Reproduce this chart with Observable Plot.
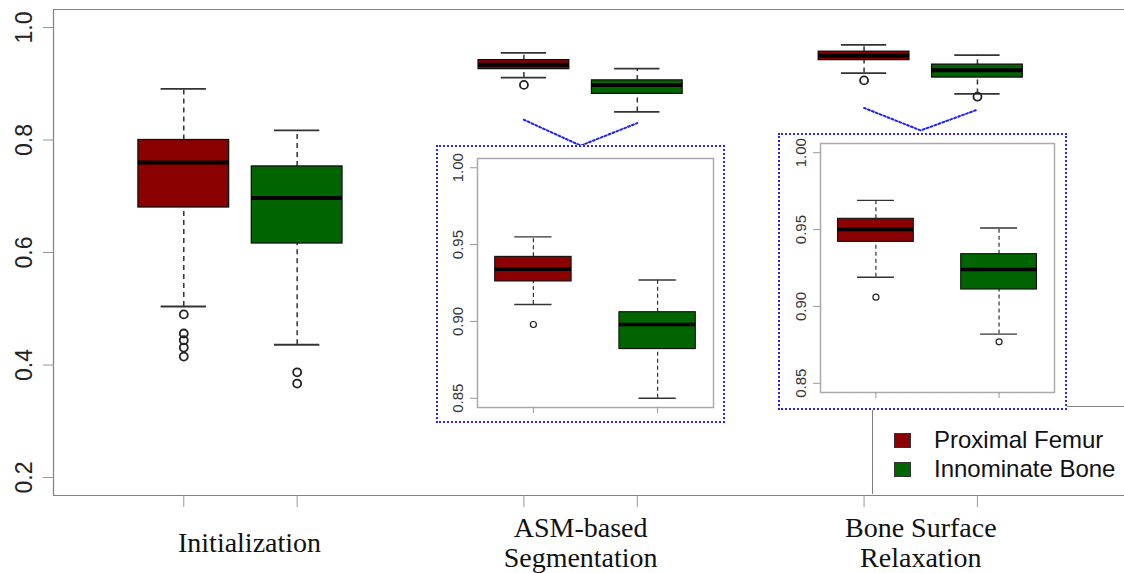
<!DOCTYPE html>
<html><head><meta charset="utf-8">
<script src="https://cdn.jsdelivr.net/npm/d3@7"></script>
<script src="https://cdn.jsdelivr.net/npm/@observablehq/plot@0.6"></script>
<style>
html,body{margin:0;padding:0;background:#fff;overflow:hidden}
#wrap{position:relative;width:1124px;height:573px;overflow:hidden;background:#fff}
#main{position:absolute;left:0;top:0}
.inset{position:absolute;box-sizing:border-box;border:2px dotted #2424ff;background:#fff}
#inset1{left:436px;top:145px;width:289px;height:278px}
#inset2{left:778px;top:133px;width:289px;height:277px}
#legend{position:absolute;left:872px;top:406px;width:260px;height:88px;box-sizing:border-box;border-left:1px solid #808080;border-top:1px solid #808080;background:#fff;font-family:"Liberation Sans",Arial,sans-serif;font-size:24px;color:#111}
.item{position:absolute;left:21px;height:18px;display:flex;align-items:center;white-space:nowrap}
.sw{width:17px;height:15px;box-sizing:border-box;border:1px solid #333;margin-right:23px}
</style></head>
<body>
<div id="wrap">
  <div id="main"></div>
  <div id="legend"></div>
  <div class="inset" id="inset1"></div>
  <div class="inset" id="inset2"></div>
</div>
<script>
// ---- data ----
const stages = ["Initialization", "ASM-based\nSegmentation", "Bone Surface\nRelaxation"];
const series = ["Proximal Femur", "Innominate Bone"];
const seriesColors = ["#8b0000", "#006400"];
// each row: one stage, [Proximal Femur, Innominate Bone]
const whiskerLow  = [[0.504, 0.436], [0.911, 0.850], [0.919, 0.882]];
const quartile1   = [[0.680, 0.616], [0.926, 0.882], [0.942, 0.911]];
const medians     = [[0.760, 0.697], [0.934, 0.898], [0.950, 0.924]];
const quartile3   = [[0.800, 0.753], [0.942, 0.906], [0.957, 0.934]];
const whiskerHigh = [[0.891, 0.817], [0.955, 0.927], [0.969, 0.951]];
const outliers    = [[[0.490, 0.456, 0.444, 0.431, 0.415], [0.387, 0.367]],
                     [[0.898], []],
                     [[0.906], [0.877]]];
const mainTicks  = [0.2, 0.4, 0.6, 0.8, 1.0];
const insetTicks = [0.85, 0.90, 0.95, 1.00];
// dotted callout lines (value at left box, apex, right box) for the zoomed stages
const calloutY = [[0.836, 0.790, 0.830], [0.857, 0.817, 0.854]];

// ---- derived tables ----
const rPad = (lo, hi) => [lo - 0.04 * (hi - lo), hi + 0.04 * (hi - lo)];
const boxes = [];
const outPts = [];
stages.forEach((st, s) => series.forEach((se, k) => {
  boxes.push({stage: s, series: se, k, x: s * 3 + k + 1, lo: whiskerLow[s][k], q1: quartile1[s][k],
    med: medians[s][k], q3: quartile3[s][k], hi: whiskerHigh[s][k]});
  outliers[s][k].forEach(v => outPts.push({stage: s, series: se, k, x: s * 3 + k + 1, y: v}));
}));

function boxMarks(data, pts, xf, o) {
  const X = d => xf(d);
  return [
    Plot.ruleX(data, {x: X, y1: "q3", y2: "hi", stroke: "#333", strokeWidth: o.ws, strokeDasharray: o.dash}),
    Plot.ruleX(data, {x: X, y1: "lo", y2: "q1", stroke: "#333", strokeWidth: o.ws, strokeDasharray: o.dash}),
    Plot.ruleY(data, {y: "hi", x1: d => X(d) - o.cw / 2, x2: d => X(d) + o.cw / 2, stroke: "#333", strokeWidth: o.cs}),
    Plot.ruleY(data, {y: "lo", x1: d => X(d) - o.cw / 2, x2: d => X(d) + o.cw / 2, stroke: "#333", strokeWidth: o.cs}),
    Plot.rect(data, {x1: d => X(d) - o.bw / 2, x2: d => X(d) + o.bw / 2, y1: "q1", y2: "q3", fill: "series", stroke: "#111", strokeWidth: o.bs}),
    Plot.ruleY(data, {y: "med", x1: d => X(d) - o.bw / 2, x2: d => X(d) + o.bw / 2, stroke: "#000", strokeWidth: o.ms}),
    Plot.dot(pts, {x: X, y: "y", r: o.r, stroke: "#222", strokeWidth: o.os, fill: "none"})
  ];
}

// ---- main chart ----
const yMain = rPad(0.2, 1.0);
const xMain = [-0.149, 9.297];
const links = [];
calloutY.forEach((ys, g) => ys.forEach((v, j) => links.push({g, x: (g + 1) * 3 + 1 + j * 0.5, y: v})));

const main = Plot.plot({
  width: 1124, height: 573,
  marginLeft: 53, marginTop: 9, marginRight: 0, marginBottom: 78,
  x: {domain: xMain, axis: null},
  y: {domain: yMain, axis: null},
  color: {domain: series, range: seriesColors},
  style: {background: "transparent", overflow: "visible"},
  marks: [
    Plot.ruleY(yMain, {stroke: "#808080", strokeWidth: 1.2}),
    Plot.ruleX([xMain[0]], {stroke: "#808080", strokeWidth: 1.2}),
    Plot.axisY(mainTicks, {anchor: "left", label: null, tickRotate: -90, tickSize: 10, tickPadding: 12, tickFormat: ".1f",
      fontSize: 23, stroke: "#999", fill: "#222", fontFamily: "Liberation Sans, Arial, sans-serif"}),
    Plot.axisX(boxes.map(d => d.x), {anchor: "bottom", label: null, tickSize: 12, tickFormat: () => "", stroke: "#999"}),
    Plot.text(stages, {x: (d, i) => i * 3 + 1.5 + (i === 0 ? 0.08 : 0), frameAnchor: "bottom", dy: 47, lineAnchor: "middle",
      lineHeight: 1.06, fontSize: 28, fontFamily: "Liberation Serif, Times New Roman, serif", fill: "#111"}),
    ...boxMarks(boxes, outPts, d => d.x, {bw: 0.8, cw: 0.4, ws: 1.5, cs: 1.8, bs: 1.3, ms: 4, r: 4, os: 1.8, dash: "5,4"}),
    Plot.line(links, {x: "x", y: "y", z: "g", stroke: "#1f1fff", strokeWidth: 2, strokeDasharray: "2,2.2"})
  ]
});
document.getElementById("main").appendChild(main);

// ---- legend ----
const lg = document.getElementById("legend");
series.forEach((s, i) => {
  const it = document.createElement("div");
  it.className = "item";
  it.style.top = (24 + i * 29) + "px";
  const sw = document.createElement("span");
  sw.className = "sw";
  sw.style.background = seriesColors[i];
  it.appendChild(sw);
  it.appendChild(document.createTextNode(s));
  lg.appendChild(it);
});

// ---- insets ----
const yInset = rPad(0.85, 1.0);
function inset(stage, w, h, m) {
  const data = boxes.filter(d => d.stage === stage);
  const pts = outPts.filter(d => d.stage === stage);
  return Plot.plot({
    width: w, height: h,
    marginLeft: m[0], marginTop: m[1], marginRight: m[2], marginBottom: m[3],
    x: {domain: [0.55, 2.45], axis: null},
    y: {domain: yInset, axis: null},
    color: {domain: series, range: seriesColors},
    style: {background: "transparent", overflow: "visible"},
    marks: [
      Plot.frame({stroke: "#aaa", strokeWidth: 1.5}),
      Plot.axisY(insetTicks, {anchor: "left", label: null, tickRotate: -90, tickSize: 7, tickPadding: 8, tickFormat: ".2f",
        fontSize: 15, stroke: "#999", fill: "#333", fontFamily: "Liberation Sans, Arial, sans-serif"}),
      Plot.axisX([1, 2], {anchor: "bottom", label: null, tickSize: 6, tickFormat: () => "", stroke: "#999"}),
      ...boxMarks(data, pts, d => d.k + 1, {bw: 0.615, cw: 0.3, ws: 1.2, cs: 1.4, bs: 1.1, ms: 3.5, r: 3, os: 1.2, dash: "4,3"})
    ]
  });
}
document.getElementById("inset1").appendChild(inset(1, 285, 274, [39, 11, 10, 14]));
document.getElementById("inset2").appendChild(inset(2, 285, 273, [40, 8, 11, 16]));
</script>
</body></html>
